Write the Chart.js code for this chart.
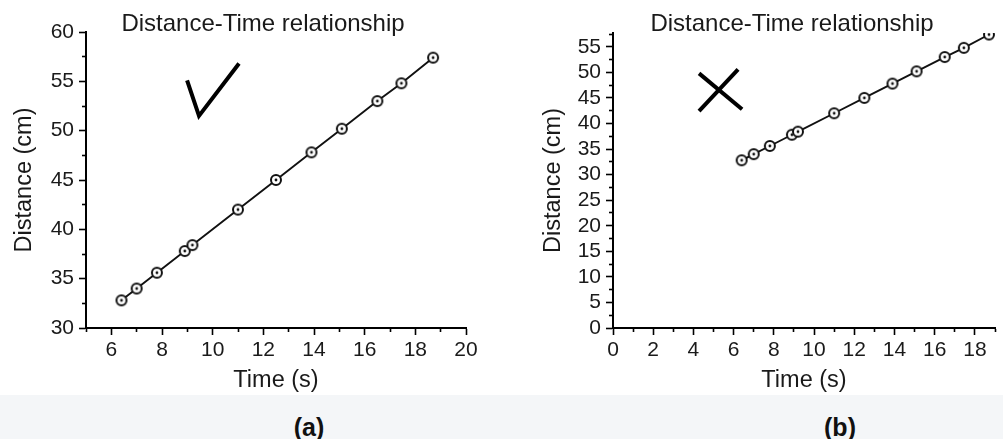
<!DOCTYPE html>
<html>
<head>
<meta charset="utf-8">
<script src="https://cdn.jsdelivr.net/npm/chart.js@4.4.1/dist/chart.umd.min.js"></script>
<style>
  html, body { margin: 0; padding: 0; background: #fff; overflow: hidden; }
  body { width: 1003px; height: 439px; position: relative; font-family: "Liberation Sans", Arial, sans-serif; }
  canvas { position: absolute; top: 0; }
  #chartA { left: 0; }
  #chartB { left: 502px; }
  .strip { position: absolute; left: 0; top: 395px; width: 1003px; height: 44px; background: #f4f6f8; }
  .cap { position: absolute; top: 415px; font-weight: bold; font-size: 25px; line-height: 1; color: #111; transform: translateX(-50%); }
</style>
</head>
<body>
<canvas id="chartA" width="500" height="395"></canvas>
<canvas id="chartB" width="501" height="395"></canvas>
<div class="strip"></div>
<div class="cap" style="left:309px">(a)</div>
<div class="cap" style="left:840px">(b)</div>
<script>
// measured points (same run plotted twice)
const times = [6.4, 7.0, 7.8, 8.9, 9.2, 11.0, 12.5, 13.9, 15.1, 16.5, 17.45, 18.7];
const distances = [32.8, 34.0, 35.6, 37.8, 38.4, 42.0, 45.0, 47.8, 50.2, 53.0, 54.8, 57.4];

const titleText = 'Distance-Time relationship';
const xTitle = 'Time (s)';
const yTitle = 'Distance (cm)';

const FONT = 'Liberation Sans';
const INK = '#1a1a1a';

// small ring with a dot in the middle, used as the marker
function ringDot() {
    const c = document.createElement('canvas');
    c.width = 16; c.height = 16;
    const g = c.getContext('2d');
    g.beginPath();
    g.arc(8, 8, 5, 0, Math.PI * 2);
    g.fillStyle = '#fff';
    g.fill();
    g.lineWidth = 2;
    g.strokeStyle = '#111';
    g.stroke();
    g.beginPath();
    g.arc(8, 8, 1.4, 0, Math.PI * 2);
    g.fillStyle = '#111';
    g.fill();
    return c;
}
const marker = ringDot();

// title text + the hand drawn tick / cross (given in data units)
const decor = {
    id: 'decor',
    afterDraw(chart, args, opts) {
        const { ctx } = chart;
        const { x, y } = chart.scales;
        ctx.save();
        ctx.fillStyle = INK;
        ctx.font = '24px "' + FONT + '"';
        ctx.textAlign = 'center';
        ctx.textBaseline = 'middle';
        ctx.fillText(opts.title, opts.titleX, opts.titleY);

        ctx.strokeStyle = '#000';
        ctx.lineWidth = 4;
        ctx.lineJoin = 'miter';
        (opts.strokes || []).forEach(path => {
            ctx.beginPath();
            path.forEach(([t, d], i) => {
                const px = x.getPixelForValue(t);
                const py = y.getPixelForValue(d);
                if (i === 0) ctx.moveTo(px, py); else ctx.lineTo(px, py);
            });
            ctx.stroke();
        });
        ctx.restore();
    }
};

const isMinor = (v, m) => Math.abs(v / m - Math.round(v / m)) > 1e-6;

function makeAxes(r) {
    const tickFont = { family: FONT, size: 21 };
    const titleFont = { family: FONT, size: 23.5 };
    return {
        x: {
            type: 'linear',
            min: r.xMin,
            max: r.xMax,
            border: { color: '#000', width: 2 },
            grid: {
                drawOnChartArea: false,
                tickLength: 7,
                tickColor: '#000',
                tickWidth: 1.6,
                tickBorderDash: c => (c.tick && isMinor(c.tick.value, r.xMajor)) ? [3, 100] : []
            },
            ticks: {
                stepSize: 1,
                autoSkip: false,
                includeBounds: false,
                maxRotation: 0,
                padding: 3,
                color: INK,
                font: tickFont,
                callback: v => isMinor(v, r.xMajor) ? '' : String(v)
            },
            title: { display: true, text: xTitle, color: INK, font: titleFont, padding: { top: 4, bottom: 0 } },
            afterFit: s => { s.height = 67; }
        },
        y: {
            type: 'linear',
            min: r.yMin,
            max: r.yMax,
            border: { color: '#000', width: 2 },
            grid: {
                drawOnChartArea: false,
                tickLength: 7,
                tickColor: '#000',
                tickWidth: 1.6,
                // left ticks are drawn from the outside in, so shift the short dash next to the axis
                tickBorderDash: c => (c.tick && isMinor(c.tick.value, r.yMajor)) ? [3, 100] : [],
                tickBorderDashOffset: c => (c.tick && isMinor(c.tick.value, r.yMajor)) ? 100 : 0
            },
            ticks: {
                stepSize: 2.5,
                autoSkip: false,
                includeBounds: false,
                padding: 5,
                color: INK,
                font: tickFont,
                callback: v => isMinor(v, r.yMajor) ? '' : String(v)
            },
            title: { display: true, text: yTitle, color: INK, font: titleFont, padding: { top: r.yTitlePad, bottom: 0 } },
            afterFit: s => { s.width = r.yWidth; }
        }
    };
}

function drawPanel(id, r, deco) {
    const points = times.map((t, i) => ({ x: t, y: distances[i] }));
    new Chart(document.getElementById(id), {
        type: 'line',
        data: {
            datasets: [{
                data: points,
                borderColor: '#111',
                borderWidth: 1.9,
                tension: 0,
                pointStyle: marker,
                pointRadius: 6,
                pointHoverRadius: 6
            }]
        },
        options: {
            responsive: false,
            animation: false,
            events: [],
            layout: { padding: { top: r.top, right: r.right, left: 0, bottom: 0 } },
            scales: makeAxes(r),
            plugins: {
                legend: { display: false },
                tooltip: { enabled: false },
                title: { display: false },
                decor: deco
            }
        },
        plugins: [decor]
    });
}

drawPanel('chartA',
    { xMin: 5, xMax: 20, yMin: 30, yMax: 60, xMajor: 2, yMajor: 5, yWidth: 86, yTitlePad: 10, top: 32, right: 34 },
    { title: titleText, titleX: 263, titleY: 24,
      strokes: [[[8.99, 55.1], [9.46, 51.5], [11.04, 56.8]]] });

drawPanel('chartB',
    { xMin: 0, xMax: 19, yMin: 0, yMax: 57.7, xMajor: 2, yMajor: 5, yWidth: 111, yTitlePad: 37, top: 33, right: 8 },
    { title: titleText, titleX: 290, titleY: 24,
      strokes: [[[4.28, 49.8], [6.42, 42.8]], [[6.22, 50.6], [4.28, 42.4]]] });
</script>
</body>
</html>
